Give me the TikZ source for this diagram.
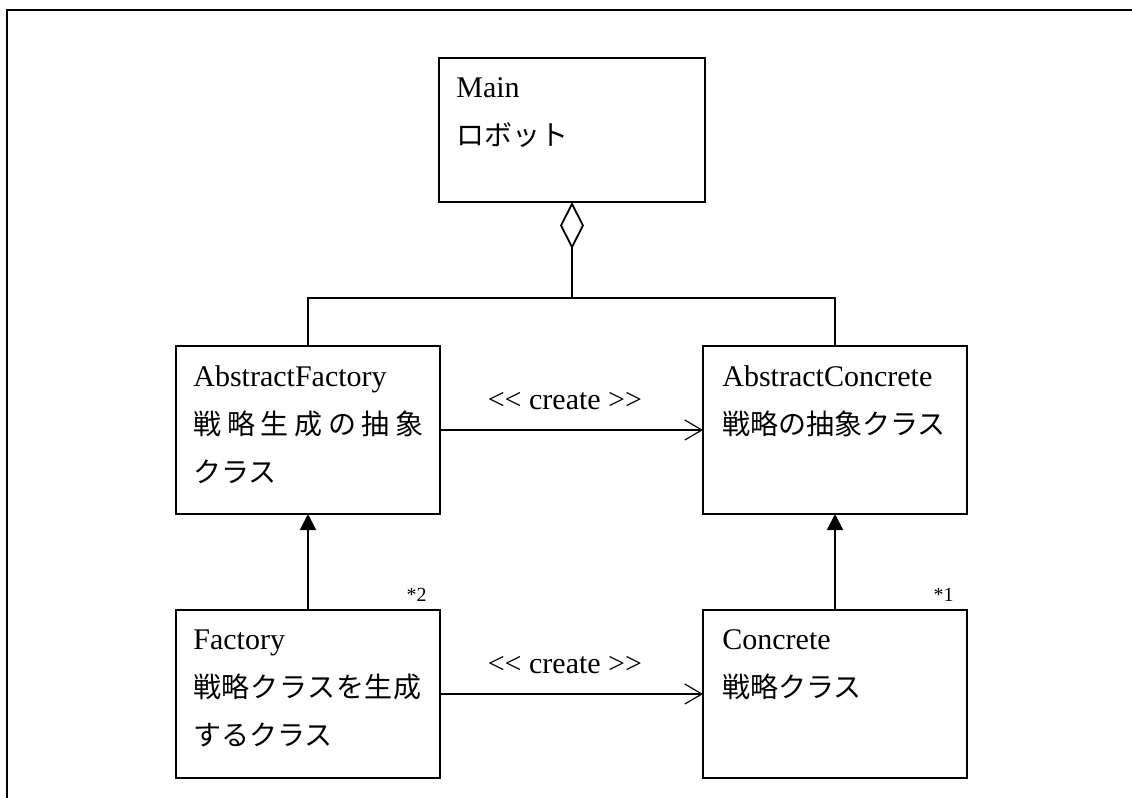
\documentclass[tikz,border=0pt]{standalone}
\usepackage{fontspec}
\setmainfont{Liberation Serif}
\newfontfamily\jp{Noto Sans CJK JP}
\usepackage{tikz}
\usetikzlibrary{arrows.meta,positioning}
\newcommand\jtxt[1]{{\jp\fontsize{14}{24}\selectfont #1}}

\begin{document}
\begin{tikzpicture}[x=0.5pt,y=-0.5pt,
    cls/.style={draw,line width=1pt,inner sep=0pt,outer sep=0pt,minimum width=132pt,minimum height=84pt},
    txt/.style={font=\fontsize{15}{24}\selectfont,align=left,inner sep=0pt,anchor=north west},
    lbl/.style={font=\fontsize{15}{18}\selectfont,inner sep=0pt},
    note/.style={font=\fontsize{10}{12}\selectfont,inner sep=0pt,anchor=base east},
    create/.style={line width=0.6pt,-{Straight Barb[length=8.5pt,width=10pt]}},
    inherit/.style={line width=1pt,-{Triangle[length=8pt,width=8pt]}}]
    \useasboundingbox (0,0) rectangle (1132,798);
    % outer frame (cut at right and bottom)
    \draw[line width=1.2pt] (1132,10) -| (7,798);

    % Top: Main
    \node[cls,minimum width=133pt,minimum height=72pt] (main) at (572,130) {};
    \node[txt] (maint) at ([shift={(8.5pt,-9.5pt)}]main.north west) {Main\\\jtxt{ロボット}};

    % Middle: abstract classes
    \node[cls] (af) at (308,430) {};
    \node[txt] (aft) at ([shift={(8.5pt,-9.5pt)}]af.north west)
      {AbstractFactory\\\jtxt{\hbox to 115pt{戦\hfil 略\hfil 生\hfil 成\hfil の\hfil 抽\hfil 象}}\\\jtxt{クラス}};
    \node[cls] (ac) at (835,430) {};
    \node[txt] (act) at ([shift={(9.5pt,-9.5pt)}]ac.north west) {AbstractConcrete\\\jtxt{戦略の抽象クラス}};

    % Bottom: concrete classes
    \node[cls] (f) at (308,694) {};
    \node[txt] (ft) at ([shift={(8.5pt,-9.5pt)}]f.north west)
      {Factory\\\jtxt{\hbox to 114pt{戦\hfil 略\hfil ク\hfil ラ\hfil ス\hfil を\hfil 生\hfil 成}}\\\jtxt{するクラス}};
    \node[cls] (c) at (835,694) {};
    \node[txt] (ct) at ([shift={(9.5pt,-9.5pt)}]c.north west) {Concrete\\\jtxt{戦略クラス}};

    \node[note] (n2) at ([shift={(-6.5pt,4.5pt)}]f.north east) {*2};
    \node[note] (n1) at ([shift={(-6.5pt,4.5pt)}]c.north east) {*1};

    % aggregation
    \coordinate (hub) at (572,298);
    \draw[line width=0.9pt] (af.north) |- (hub) -| (ac.north);
    \draw[line width=0.9pt,{Diamond[open,length=23.5pt,width=12pt]}-] (main.south) -- (hub);

    % generalisation
    \draw[inherit] (f.north) -- (af.south);
    \draw[inherit] (c.north) -- (ac.south);

    % create
    \draw[create] (af) -- node[lbl,pos=0.475,above=10pt] (cr1) {{<}{<} create {>}{>}} (ac);
    \draw[create] (f) -- node[lbl,pos=0.475,above=10pt] (cr2) {{<}{<} create {>}{>}} (c);
\end{tikzpicture}
\end{document}
